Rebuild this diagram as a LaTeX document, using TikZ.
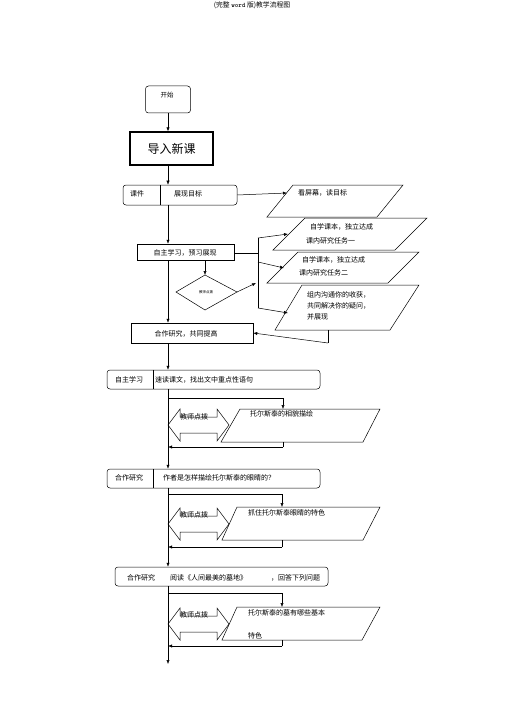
\documentclass[tikz,border=0pt]{standalone}
\usepackage{fontspec}
\setmainfont{Noto Sans CJK SC}
\usetikzlibrary{arrows.meta}
\tikzset{
  ln/.style={line width=0.5pt,draw=black},
  arr/.style={ln,-{Latex[length=4pt,width=3.2pt]}},
  txt/.style={inner sep=0pt,font=\fontsize{7}{8}\selectfont,anchor=west},
  ctxt/.style={inner sep=0pt,font=\fontsize{7}{8}\selectfont},
  rbox/.style={ln,rectangle,rounded corners=3pt,inner sep=0pt},
  sbox/.style={ln,rectangle,inner sep=0pt},
  dbl/.pic={\draw[ln] (0,0)--(12,-16)--(12,-8)--(49,-8)--(49,-16)--(61,0)--(49,16)--(49,8)--(12,8)--(12,16)--cycle;}
}
\begin{document}
\begin{tikzpicture}[x=1pt,y=-1pt]
\useasboundingbox (0,0) rectangle (505,714);
\coordinate (axis) at (168,0);
% title
\node[ctxt,font=\fontsize{6.8}{7}\selectfont] (title) at (252,5) {(完整 {\ttfamily\bfseries word} 版)教学流程图};

% start
\node[rbox,minimum width=45pt,minimum height=27pt] (start) at (168,99.5) {};
\node[ctxt,font=\fontsize{6.5}{7}\selectfont] (starttxt) at (167,95) {开始};
% intro
\node[sbox,line width=1.2pt,minimum width=83pt,minimum height=33pt,font=\fontsize{12}{13}\selectfont] (intro) at (171.5,148.5) {导入新课};
% kejian
\node[rbox,minimum width=114pt,minimum height=20pt] (kj) at (180,195) {};
\draw[ln] (kj.north -| 160,0) -- (kj.south -| 160,0);
\node[ctxt] (kjt1) at (137,194) {课件};
\node[ctxt] (kjt2) at (188,194) {展现目标};
% zizhu
\node[sbox,minimum width=97pt,minimum height=16pt] (zx) at (185.5,252) {};
\node[ctxt] (zxt) at (185,253) {自主学习，预习展现};
% diamond
\coordinate (dT) at (205,275); \coordinate (dR) at (237,292);
\coordinate (dB) at (205,310); \coordinate (dL) at (176,292);
\draw[ln] (dT)--(dR)--(dB)--(dL)--cycle;
\node[ctxt,font=\fontsize{3.5}{4}\selectfont] (dtxt) at (206,292) {教师点拨};
% hezuo
\node[sbox,minimum width=122pt,minimum height=20pt] (hz) at (192,333) {};
\node[ctxt] (hzt) at (186,334) {合作研究，共同提高};

% parallelograms top right
\draw[ln] (293,185)--(403,185)--(377,217)--(267,217)--cycle;
\node[txt] (p1t) at (298,193) {看屏幕，读目标};
\draw[ln] (305,218)--(427,218)--(395,250)--(273,250)--cycle;
\node[txt] (p2a) at (310,227) {自学课本，独立达成};
\node[txt] (p2b) at (306,241) {课内研究任务一};
\draw[ln] (298,252)--(419,252)--(388,283)--(267,283)--cycle;
\node[txt] (p3a) at (302,260) {自学课本，独立达成};
\node[txt] (p3b) at (299,273) {课内研究任务二};
\draw[ln] (302,285)--(419,285)--(390,330)--(275,330)--cycle;
\node[txt] (p4a) at (307,295) {组内沟通你的收获，};
\node[txt] (p4b) at (307,306) {共同解决你的疑问，};
\node[txt] (p4c) at (307,317) {并展现};

\coordinate (p1in) at (287,193);
\coordinate (p2in) at (288,234);
\coordinate (p3in) at (284,268);
\coordinate (p4in) at (288,313);
\coordinate (brT) at (258,238);
\coordinate (brM) at (258,253);
\coordinate (brM2) at (258,262);
\coordinate (brB) at (258,308);
\coordinate (brD) at (256,283);
\coordinate (p4out) at (328,330);
\coordinate (p4dn) at (328,343);

% main axis
\draw[arr] (start.south -| axis) -- (intro.north -| axis);
\draw[arr] (intro.south -| axis) -- (kj.north -| axis);
\draw[arr] (kj.south -| axis) -- (zx.north -| axis);
\draw[arr] (zx.south -| axis) -- (hz.north -| axis);
\draw[arr] (kj.east) -- (p1in);
\draw[ln] (zx.east |- brM) -- (brM);
\draw[ln] (brT) -- (brB);
\draw[arr] (brT) -- (p2in);
\draw[arr] (brM2) -- (p3in);
\draw[arr] (brB) -- (p4in);
\draw[arr] (zx.south -| dT) -- (dT);
\draw[arr] (dR) -- (brD);
\draw[ln] (p4out) -- (p4dn);
\draw[arr] (p4dn) -- (hz.east);

% block 2
\node[rbox,minimum width=213pt,minimum height=19pt] (b2) at (213.5,379.5) {};
\draw[ln] (b2.north -| 153,0) -- (b2.south -| 153,0);
\node[ctxt] (b2a) at (129,380) {自主学习};
\node[txt] (b2b) at (155,380) {速读课文，找出文中重点性语句};
\draw[arr] (hz.south -| axis) -- (b2.north -| axis);
\pic at (168,425) {dbl};
\node[txt] (d1) at (180,417) {教师点拨};
\draw[ln] (240,409)--(380,409)--(363,442)--(221,442)--cycle;
\node[txt] (q1) at (250,414) {托尔斯泰的相貌描绘};
\coordinate (q1a) at (283,398); \coordinate (q1in) at (283,409);
\coordinate (q1out) at (283,442); \coordinate (q1b) at (283,447);
\draw[ln] (q1a -| axis) -- (q1a);
\draw[arr] (q1a) -- (q1in);
\draw[ln] (q1out) -- (q1b);
\draw[arr] (q1b) -- (q1b -| axis);

% block 3
\node[rbox,minimum width=213pt,minimum height=19pt] (b3) at (213.5,478.5) {};
\draw[ln] (b3.north -| 153,0) -- (b3.south -| 153,0);
\node[ctxt] (b3a) at (129,478) {合作研究};
\node[txt] (b3b) at (163,478) {作者是怎样描绘托尔斯泰的眼睛的？};
\draw[arr] (b2.south -| axis) -- (b3.north -| axis);
\pic at (168,524) {dbl};
\node[txt] (d2) at (180,515) {教师点拨};
\draw[ln] (237,507)--(380,507)--(363,540)--(222,540)--cycle;
\node[txt] (q2) at (248,513) {抓住托尔斯泰眼睛的特色};
\coordinate (q2a) at (282,494); \coordinate (q2in) at (282,507);
\coordinate (q2out) at (282,540); \coordinate (q2b) at (282,547);
\draw[ln] (q2a -| axis) -- (q2a);
\draw[arr] (q2a) -- (q2in);
\draw[ln] (q2out) -- (q2b);
\draw[arr] (q2b) -- (q2b -| axis);

% block 4
\node[rbox,minimum width=213pt,minimum height=19pt] (b4) at (221.5,576.5) {};
\node[txt] (b4a) at (127,578) {合作研究};
\node[txt] (b4b) at (170,578) {阅读《人间最美的墓地》};
\node[txt] (b4c) at (271,578) {，回答下列问题};
\draw[arr] (b3.south -| axis) -- (b4.north -| axis);
\pic at (168,624) {dbl};
\node[txt] (d3) at (180,615) {教师点拨};
\draw[ln] (237,607)--(380,607)--(362,640)--(222,640)--cycle;
\node[txt] (q3a) at (248,613) {托尔斯泰的墓有哪些基本};
\node[txt] (q3b) at (248,636) {特色};
\coordinate (q3a1) at (282,593); \coordinate (q3in) at (282,607);
\coordinate (q3out) at (282,640); \coordinate (q3b1) at (282,646);
\draw[ln] (q3a1 -| axis) -- (q3a1);
\draw[arr] (q3a1) -- (q3in);
\draw[ln] (q3out) -- (q3b1);
\draw[arr] (q3b1) -- (q3b1 -| axis);
\coordinate (endpt) at (168,664);
\draw[arr] (b4.south -| axis) -- (endpt);
\end{tikzpicture}
\end{document}
